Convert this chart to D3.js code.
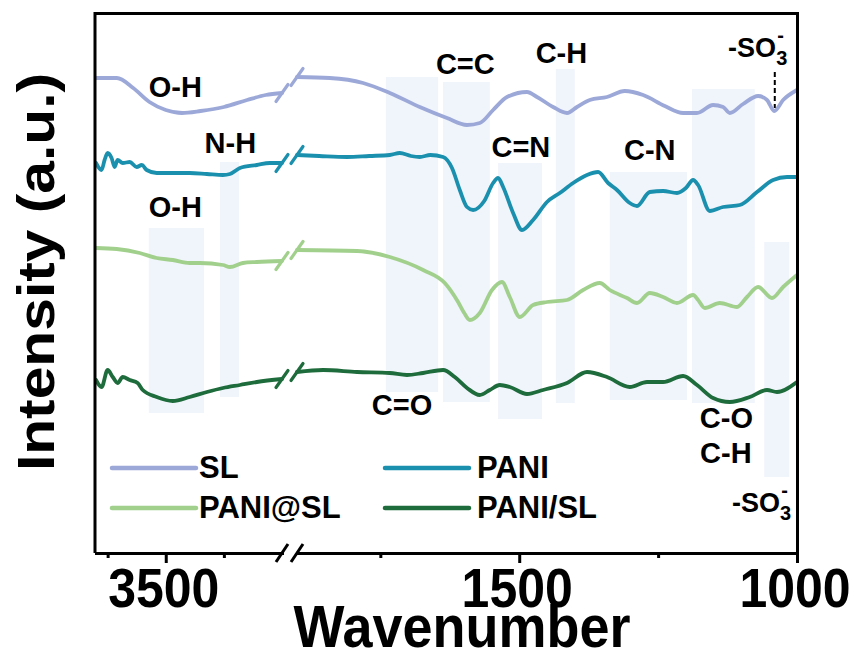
<!DOCTYPE html>
<html>
<head>
<meta charset="utf-8">
<script src="https://cdn.jsdelivr.net/npm/d3@7"></script>
<style>
  body { margin: 0; background: #fff; }
  text { font-family: "Liberation Sans", Arial, sans-serif; font-weight: bold; fill: #000; }
</style>
</head>
<body>
<div id="chart"></div>
<script>
// data: [wavenumber, intensity (a.u.)]
const seriesNames = ['SL', 'PANI', 'PANI@SL', 'PANI/SL'];

const slLeft = [[3800,47.4],[3710,47.4],[3640,46.4],[3570,45.0],[3500,44.2],[3430,43.9],[3350,44.1],[3250,44.5],[3150,45.2],[3070,45.7],[3000,45.9]];
const slRight = [[1900,47.5],[1841,47.4],[1781,46.9],[1733,45.9],[1679,44.5],[1630,43.4],[1594,42.7],[1571,42.9],[1547,44.2],[1522,45.5],[1486,46.0],[1468,45.5],[1439,44.5],[1414,43.9],[1396,44.5],[1373,45.2],[1342,45.5],[1310,46.1],[1277,45.7],[1238,44.6],[1205,43.9],[1180,43.9],[1151,44.7],[1133,44.5],[1121,43.9],[1097,44.8],[1070,45.6],[1054,45.2],[1041,44.1],[1025,45.2],[1000,46.2]];

const paniLeft = [[3800,38.9],[3776,38.2],[3763,39.2],[3750,39.9],[3733,39.4],[3720,38.5],[3707,39.2],[3685,38.9],[3655,39.0],[3625,38.5],[3603,38.7],[3582,38.2],[3539,37.9],[3470,37.9],[3397,37.9],[3323,37.8],[3254,37.7],[3224,37.8],[3181,38.4],[3108,38.7],[3052,38.9],[3000,38.9]];
const paniRight = [[1900,39.7],[1860,39.6],[1810,39.5],[1770,39.6],[1733,39.7],[1715,39.9],[1695,39.6],[1679,39.5],[1660,39.7],[1637,39.5],[1621,38.4],[1607,36.2],[1594,34.5],[1583,34.2],[1563,35.1],[1547,36.9],[1538,37.4],[1529,36.5],[1511,33.9],[1495,32.2],[1475,33.2],[1450,35.0],[1427,35.9],[1403,36.9],[1378,37.7],[1358,38.0],[1340,36.9],[1324,36.2],[1301,34.9],[1288,34.6],[1265,36.0],[1241,36.1],[1216,35.9],[1200,36.4],[1187,37.2],[1178,36.7],[1157,34.1],[1133,34.5],[1103,34.7],[1072,36.0],[1043,37.2],[1018,37.5],[1000,37.5]];

const paniAtSlLeft = [[3800,30.4],[3711,30.3],[3612,29.9],[3539,29.4],[3470,29.2],[3397,28.9],[3353,28.9],[3254,28.7],[3224,28.5],[3168,28.9],[3108,29.0],[3000,29.1]];
const paniAtSlRight = [[1900,30.2],[1792,30.1],[1733,29.5],[1673,28.2],[1634,26.9],[1610,25.0],[1599,23.9],[1589,23.2],[1571,23.9],[1549,26.2],[1531,27.0],[1517,25.5],[1499,23.5],[1475,24.7],[1450,25.0],[1414,25.2],[1385,26.2],[1355,26.9],[1337,26.2],[1306,25.4],[1288,24.9],[1265,25.9],[1241,25.5],[1216,24.9],[1187,25.7],[1178,25.2],[1166,24.4],[1139,24.9],[1108,24.5],[1090,25.5],[1070,26.5],[1045,25.4],[1025,26.5],[1000,27.7]];

const paniSlLeft = [[3800,17.2],[3776,16.5],[3750,18.2],[3728,17.5],[3707,16.9],[3685,17.5],[3655,17.2],[3621,16.9],[3599,16.2],[3539,15.5],[3470,15.1],[3397,15.5],[3323,16.0],[3254,16.4],[3181,16.7],[3108,17.0],[3000,17.3]];
const paniSlRight = [[1900,18.0],[1853,18.2],[1792,18.0],[1733,17.9],[1702,17.7],[1673,17.9],[1637,18.2],[1616,17.5],[1594,16.4],[1571,15.7],[1553,16.2],[1535,16.7],[1517,16.5],[1486,15.8],[1457,16.2],[1414,16.9],[1378,18.0],[1342,17.5],[1301,16.5],[1270,17.0],[1241,17.0],[1205,17.6],[1180,16.7],[1151,15.4],[1121,15.0],[1085,15.5],[1054,16.2],[1036,16.0],[1000,17.0]];

// shaded assignment bands: wavenumber from/to, intensity top/bottom
const bandWaves = [[3573,3336],[3267,3185],[1740,1646],[1637,1553],[1538,1459],[1434,1400],[1337,1198],[1189,1076],[1059,1014]];
const bandLevels = [[32.4,13.9],[39.0,15.5],[47.5,16.0],[47.0,15.0],[38.9,13.3],[48.3,14.9],[38.0,15.2],[46.3,14.9],[31.0,7.5]];

// peak labels: text, wavenumber, intensity (baseline)
const peakLabels = [['O-H',3459,45.5],['N-H',3222,39.9],['O-H',3459,33.5],['C=C',1597,47.8],['C-H',1424,48.9],
  ['C=N',1497,39.5],['C-N',1265,39.2],['C=O',1711,13.7],['C-O',1127,12.4],['C-H',1128,8.9]];
const sulfoLabels = [[1124,49.5],[1117,4.0]];
const sulfoMarker = [1040, 48.0, 44.4];

const majorLeft = [3500], minorLeft = [3750, 3250];
const majorRight = [1500, 1000], minorRight = [1750, 1250];

const colors = ['#9ca9d8', '#1b90ae', '#a1d08c', '#1e6b3b'];
const seriesData = [[slLeft, slRight], [paniLeft, paniRight], [paniAtSlLeft, paniAtSlRight], [paniSlLeft, paniSlRight]];

let svgWidth = 861, svgHeight = 660;
let svg = d3.select('#chart').append('svg')
  .attr('width', svgWidth).attr('height', svgHeight);

let xLeft = d3.scaleLinear().domain([3800, 3000]).range([96, 282]);
let xRight = d3.scaleLinear().domain([1900, 1000]).range([297, 797]);
let y = d3.scaleLinear().domain([0, 54]).range([552, 12]);
let xw = w => (w > 2500 ? xLeft(w) : xRight(w));

// bands
svg.append('g').selectAll('rect')
  .data(bandWaves)
  .enter().append('rect')
  .attr('x', d => xw(d[0]))
  .attr('width', d => xw(d[1]) - xw(d[0]))
  .attr('y', (d, i) => y(bandLevels[i][0]))
  .attr('height', (d, i) => y(bandLevels[i][1]) - y(bandLevels[i][0]))
  .attr('fill', '#f0f4fb');

// curves
let lineL = d3.line().x(d => xLeft(d[0])).y(d => y(d[1])).curve(d3.curveMonotoneX);
let lineR = d3.line().x(d => xRight(d[0])).y(d => y(d[1])).curve(d3.curveMonotoneX);

seriesData.forEach((s, i) => {
  let g = svg.append('g').attr('stroke', colors[i]).attr('fill', 'none')
    .attr('stroke-width', 3.8).attr('stroke-linejoin', 'round').attr('stroke-linecap', 'round');
  g.append('path').attr('d', lineL(s[0].slice().reverse()));
  g.append('path').attr('d', lineR(s[1].slice().reverse()));
  // break marks
  let endL = s[0][s[0].length - 1], startR = s[1][0];
  [[xLeft(endL[0]), y(endL[1])], [xRight(startR[0]), y(startR[1])]].forEach(p => {
    g.append('line')
      .attr('x1', p[0] - 6).attr('y1', p[1] + 8.5)
      .attr('x2', p[0] + 6).attr('y2', p[1] - 8.5)
      .attr('stroke-width', 3.2);
  });
});

// dashed marker at -SO3
svg.append('line')
  .attr('x1', xRight(sulfoMarker[0])).attr('x2', xRight(sulfoMarker[0]))
  .attr('y1', y(sulfoMarker[1])).attr('y2', y(sulfoMarker[2]))
  .attr('stroke', '#000').attr('stroke-width', 2).attr('stroke-dasharray', '5,3');

// frame
let frame = svg.append('g').attr('stroke', '#000').attr('stroke-width', 3).attr('fill', 'none');
frame.append('path').attr('d', `M95,553V13.5H797.5V553`).attr('stroke-linejoin', 'miter');

// axes
function drawAxis(scale, major, minor) {
  let g = svg.append('g').attr('transform', 'translate(0,553)');
  g.call(d3.axisBottom(scale).tickValues(major).tickSize(10).tickSizeOuter(0).tickFormat(''));
  let gm = svg.append('g').attr('transform', 'translate(0,553)');
  gm.call(d3.axisBottom(scale).tickValues(minor).tickSize(5).tickSizeOuter(0).tickFormat(''));
  gm.select('.domain').remove();
  svg.selectAll('.tick line, .domain').attr('stroke-width', 3);
  g.select('.domain').attr('stroke-linecap', 'square');
}
drawAxis(xLeft, majorLeft, minorLeft);
drawAxis(xRight, majorRight, minorRight);

// axis break marks
[xLeft(3000), xRight(1900)].forEach(x0 => {
  svg.append('line')
    .attr('x1', x0 - 6).attr('y1', 562)
    .attr('x2', x0 + 6).attr('y2', 544)
    .attr('stroke', '#000').attr('stroke-width', 3);
});

// tick labels
let tickLabels = majorLeft.map(v => [xLeft(v), v]).concat(majorRight.map(v => [xRight(v), v]));
svg.append('g').selectAll('text')
  .data(tickLabels)
  .enter().append('text')
  .attr('transform', d => `translate(${d[0] - 2},607) scale(1,1.12)`)
  .attr('text-anchor', 'middle')
  .style('font-size', '50px')
  .text(d => d[1]);

// axis titles
svg.append('text')
  .attr('transform', 'translate(462,647) scale(1,1.1)')
  .attr('text-anchor', 'middle')
  .style('font-size', '54px')
  .text('Wavenumber');

svg.append('text')
  .attr('transform', 'translate(54,272) rotate(-90) scale(1.13,1)')
  .attr('text-anchor', 'middle')
  .style('font-size', '52px')
  .text('Intensity (a.u.)');

// peak labels
svg.append('g').selectAll('text')
  .data(peakLabels)
  .enter().append('text')
  .attr('x', d => xw(d[1]))
  .attr('y', d => y(d[2]))
  .attr('text-anchor', 'middle')
  .style('font-size', '29px')
  .text(d => d[0]);

sulfoLabels.forEach(d => {
  let t = svg.append('text')
    .attr('x', xRight(d[0])).attr('y', y(d[1]))
    .style('font-size', '27px');
  t.append('tspan').text('-SO');
  t.append('tspan').attr('dy', 8).style('font-size', '20px').text('3');
  t.append('tspan').attr('dx', -10).attr('dy', -23).style('font-size', '20px').text('-');
});

// legend
let legendPos = [[112, 468], [385, 468], [112, 508], [385, 508]];
let legend = svg.append('g');
seriesNames.forEach((name, i) => {
  let p = legendPos[i];
  legend.append('line')
    .attr('x1', p[0]).attr('x2', p[0] + 84)
    .attr('y1', p[1]).attr('y2', p[1])
    .attr('stroke', colors[i]).attr('stroke-width', 4.5).attr('stroke-linecap', 'round');
  legend.append('text')
    .attr('x', p[0] + (i % 2 === 0 ? 87 : 92))
    .attr('y', p[1] + 10)
    .style('font-size', '31px')
    .text(name);
});
</script>
</body>
</html>
